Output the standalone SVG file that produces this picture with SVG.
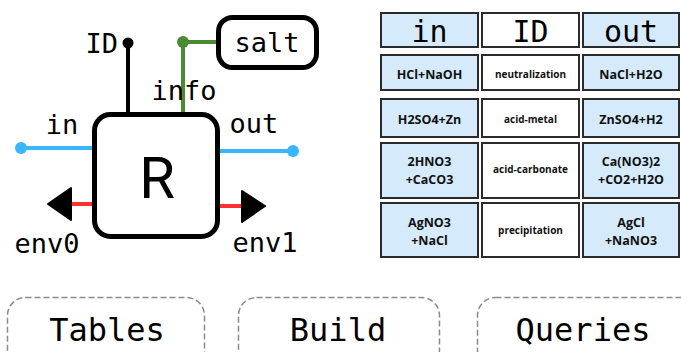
<svg xmlns="http://www.w3.org/2000/svg" width="681" height="352" viewBox="0 0 681 352">
<defs>
<style>
.mono{font-family:"DejaVu Sans Mono","Liberation Mono",monospace;fill:#000}
.lbl{font-size:27px}
.node{fill:#fff;stroke:#000;stroke-width:5}
.blue{stroke:#38b6ff;stroke-width:4;fill:none}
.red{stroke:#ff3131;stroke-width:4;fill:none}
.green{stroke:#4b8a33;stroke-width:4;fill:none}
.cell{fill:#d5ebfb;stroke:#2b2b2b;stroke-width:2}
.cellw{fill:#fff;stroke:#2b2b2b;stroke-width:2}
.ct{font-family:"Open Sans","Liberation Sans",sans-serif;font-weight:700;font-size:12.5px;fill:#111;text-anchor:middle}
.cs{font-family:"Open Sans","Liberation Sans",sans-serif;font-weight:700;font-size:10px;fill:#111;text-anchor:middle}
.hd{font-family:"DejaVu Sans Mono","Liberation Mono",monospace;font-size:30px;fill:#000;text-anchor:middle}
.btn{fill:#fff;stroke:#8a8a8a;stroke-width:1.5;stroke-dasharray:6 3}
.bt{font-family:"DejaVu Sans Mono","Liberation Mono",monospace;font-size:32px;fill:#000;text-anchor:middle}
</style>
</defs>
<g id="connectors">
<line class="blue" x1="21" y1="148" x2="95" y2="148"/>
<circle cx="21" cy="148" r="6" fill="#38b6ff"/>
<line class="blue" x1="218" y1="151" x2="293" y2="151"/>
<circle cx="293" cy="151" r="6" fill="#38b6ff"/>
<line class="red" x1="70" y1="204" x2="95" y2="204"/>
<path d="M48 204 L71 188 L71 220 Z" fill="#000" stroke="#000" stroke-width="2" stroke-linejoin="round"/>
<line class="red" x1="218" y1="206" x2="244" y2="206"/>
<path d="M265 206 L242 191 L242 222 Z" fill="#000" stroke="#000" stroke-width="2" stroke-linejoin="round"/>
<line x1="128" y1="43" x2="128" y2="114" stroke="#000" stroke-width="4"/>
<circle cx="128" cy="43" r="5.5" fill="#000"/>
<path class="green" d="M183 114 V42 H219"/>
<circle cx="183" cy="42" r="6" fill="#4b8a33"/>
</g>
<g id="node-R">
<rect class="node" x="94.5" y="114.5" width="123" height="122" rx="16"/>
<text x="157" y="198" font-family="Roboto,Inter,'Liberation Sans',sans-serif" font-size="58" text-anchor="middle">R</text>
</g>
<g id="node-salt">
<rect class="node" x="218.5" y="17.5" width="98" height="50" rx="14"/>
<text class="mono lbl" x="267" y="52" text-anchor="middle">salt</text>
</g>
<g id="labels">
<text class="mono lbl" x="118" y="53" text-anchor="end">ID</text>
<text class="mono lbl" x="184" y="100" text-anchor="middle">info</text>
<text class="mono lbl" x="62" y="134" text-anchor="middle">in</text>
<text class="mono lbl" x="254" y="133" text-anchor="middle">out</text>
<text class="mono lbl" x="47" y="253" text-anchor="middle">env0</text>
<text class="mono lbl" x="265" y="252" text-anchor="middle">env1</text>
</g>
<g id="table">
<rect class="cell" x="381" y="13" width="97" height="34"/>
<rect class="cellw" x="482" y="13" width="97" height="34"/>
<rect class="cell" x="583" y="13" width="96" height="34"/>
<text class="hd" x="429.5" y="42">in</text>
<text class="hd" x="530.5" y="42">ID</text>
<text class="hd" x="631" y="42">out</text>
<rect class="cell" x="381" y="55" width="97" height="35"/>
<rect class="cellw" x="482" y="55" width="97" height="35"/>
<rect class="cell" x="583" y="55" width="96" height="35"/>
<text class="ct" x="429.5" y="79">HCl+NaOH</text>
<text class="cs" x="530.5" y="78">neutralization</text>
<text class="ct" x="631" y="79">NaCl+H2O</text>
<rect class="cell" x="381" y="99" width="97" height="38"/>
<rect class="cellw" x="482" y="99" width="97" height="38"/>
<rect class="cell" x="583" y="99" width="96" height="38"/>
<text class="ct" x="429.5" y="124">H2SO4+Zn</text>
<text class="cs" x="530.5" y="123">acid-metal</text>
<text class="ct" x="631" y="124">ZnSO4+H2</text>
<rect class="cell" x="381" y="143" width="97" height="55"/>
<rect class="cellw" x="482" y="143" width="97" height="55"/>
<rect class="cell" x="583" y="143" width="96" height="55"/>
<text class="ct" x="429.5" y="166">2HNO3</text>
<text class="ct" x="429.5" y="184">+CaCO3</text>
<text class="cs" x="530.5" y="173">acid-carbonate</text>
<text class="ct" x="631" y="166">Ca(NO3)2</text>
<text class="ct" x="631" y="184">+CO2+H2O</text>
<rect class="cell" x="381" y="203" width="97" height="54"/>
<rect class="cellw" x="482" y="203" width="97" height="54"/>
<rect class="cell" x="583" y="203" width="96" height="54"/>
<text class="ct" x="429.5" y="227">AgNO3</text>
<text class="ct" x="429.5" y="245">+NaCl</text>
<text class="cs" x="530.5" y="234">precipitation</text>
<text class="ct" x="631" y="227">AgCl</text>
<text class="ct" x="631" y="245">+NaNO3</text>
</g>
<g id="btn-tables">
<rect class="btn" x="7.5" y="297.5" width="197" height="80" rx="18"/>
<text class="bt" x="107" y="341">Tables</text>
</g>
<g id="btn-build">
<rect class="btn" x="238.5" y="297.5" width="201" height="80" rx="18"/>
<text class="bt" x="338" y="341">Build</text>
</g>
<g id="btn-queries">
<rect class="btn" x="477.5" y="297.5" width="230" height="80" rx="18"/>
<text class="bt" x="583" y="341">Queries</text>
</g>
</svg>
